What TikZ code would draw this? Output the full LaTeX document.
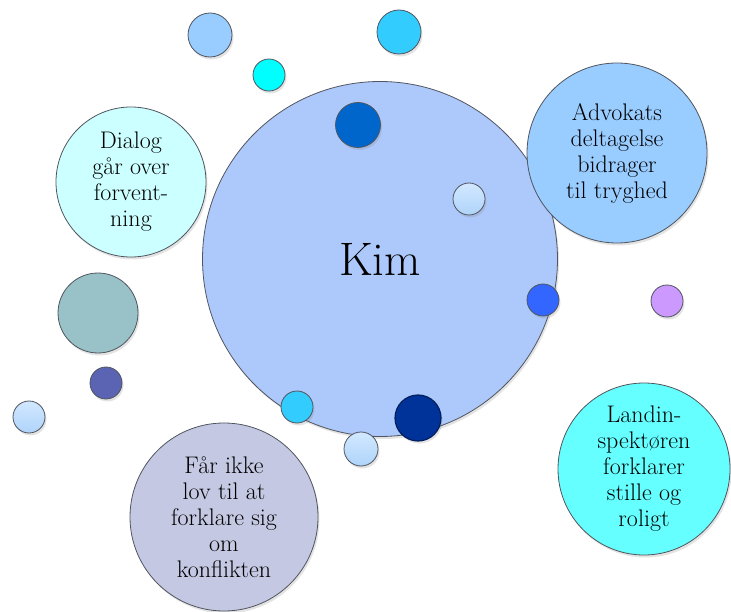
\documentclass[tikz,border=0pt]{standalone}
\usepackage{fontspec}
\usetikzlibrary{shadows}
\definecolor{kimc}{RGB}{173,200,250}
\definecolor{dialogc}{RGB}{204,255,255}
\definecolor{advc}{RGB}{153,204,255}
\definecolor{tealc}{RGB}{153,194,200}
\definecolor{indigoc}{RGB}{90,100,178}
\definecolor{lightc}{RGB}{210,232,255}
\definecolor{lightd}{RGB}{175,212,250}
\definecolor{farc}{RGB}{196,200,226}
\definecolor{landc}{RGB}{102,255,255}
\definecolor{purplec}{RGB}{204,153,255}
\definecolor{bluec}{RGB}{51,102,255}
\definecolor{cyanc}{RGB}{0,255,255}
\definecolor{skyc}{RGB}{51,204,255}
\definecolor{darkbc}{RGB}{0,102,204}
\definecolor{navyc}{RGB}{0,51,153}
\definecolor{edgec}{RGB}{80,85,95}
\tikzset{
  bub/.style={circle, draw=edgec, line width=0.8pt, inner sep=0pt,
    drop shadow={shadow xshift=1.5pt, shadow yshift=-2.5pt, opacity=0.22}},
  txt/.style={align=center, font=\fontsize{24}{26}\selectfont, text=black},
  lgrad/.style={top color=lightc, bottom color=lightd}
}
\begin{document}
\begin{tikzpicture}[x=1pt,y=-1pt]
\useasboundingbox (0,0) rectangle (731,612);
% small top bubbles
\node[bub, fill=advc, minimum size=44pt] (t1) at (210,35) {};
\node[bub, fill=cyanc, minimum size=32pt] (t2) at (269,75) {};
\node[bub, fill=skyc, minimum size=44pt] (t3) at (399,32) {};
% main
\node[bub, fill=kimc, minimum size=355pt, font=\fontsize{47}{50}\selectfont] (kim) at (380,259) {Kim};
% bubbles on Kim
\node[bub, fill=darkbc, minimum size=45pt] (k1) at (358,125) {};
\node[bub, lgrad, minimum size=32pt] (k2) at (469,199) {};
\node[bub, fill=bluec, minimum size=32pt] (k3) at (543,300) {};
\node[bub, fill=skyc, minimum size=32pt] (k4) at (297,407) {};
\node[bub, lgrad, minimum size=34pt] (k5) at (361,449) {};
\node[bub, fill=navyc, minimum size=46pt, line width=1.2pt, draw=navyc!60!black] (k6) at (418,418) {};
% text bubbles
\node[bub, fill=dialogc, minimum size=150pt, txt] (dialog) at (131,182) {Dialog\\går over\\forvent-\\ning};
\node[bub, fill=advc, minimum size=180pt, txt] (adv) at (617,153) {Advokats\\deltagelse\\bidrager\\til tryghed};
\node[bub, fill=farc, minimum size=188pt, txt] (far) at (224,517) {Får ikke\\lov til at\\forklare sig\\om\\konflikten};
\node[bub, fill=landc, minimum size=172pt, txt] (land) at (644,469) {Landin-\\spektøren\\forklarer\\stille og\\roligt};
% left bubbles
\node[bub, fill=tealc, minimum size=80pt] (l1) at (98,313) {};
\node[bub, fill=indigoc, minimum size=32pt] (l2) at (106,383) {};
\node[bub, lgrad, minimum size=32pt] (l3) at (29,417) {};
% right small
\node[bub, fill=purplec, minimum size=32pt] (r1) at (667,301) {};
\end{tikzpicture}
\end{document}
